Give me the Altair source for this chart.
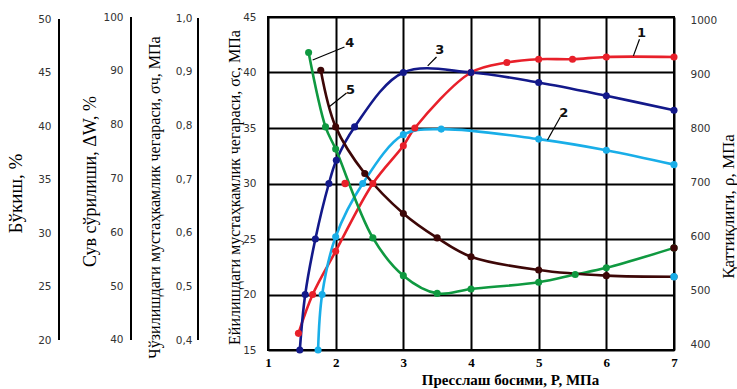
import altair as alt
import pandas as pd

# Press pressure, MPa (x) and curve values on the primary scale (15..45)
P1 = [1.45, 1.66, 2.0, 2.55, 3.0, 3.17, 4.0, 4.53, 5.0, 5.5, 6.0, 7.0]
S1 = [16.5, 20.0, 23.9, 30.0, 33.4, 35.0, 40.0, 40.9, 41.2, 41.2, 41.4, 41.4]

P2 = [1.74, 1.80, 2.0, 2.40, 3.0, 3.56, 5.0, 6.0, 7.0]
S2 = [15.0, 20.0, 25.2, 30.0, 34.4, 34.9, 34.0, 33.0, 31.7]

P3 = [1.47, 1.55, 1.70, 1.90, 2.01, 2.28, 3.0, 4.0, 5.0, 6.0, 7.0]
S3 = [15.0, 20.0, 25.0, 30.0, 32.1, 35.1, 40.0, 40.0, 39.1, 37.9, 36.6]

P4 = [1.60, 1.85, 2.0, 2.55, 3.0, 3.5, 4.0, 5.0, 5.54, 6.0, 7.0]
S4 = [41.8, 35.1, 33.1, 25.1, 21.7, 20.1, 20.5, 21.1, 21.8, 22.4, 24.2]

P5 = [1.78, 2.0, 2.43, 3.0, 3.5, 4.0, 5.0, 6.0, 7.0]
S5 = [40.2, 35.1, 30.9, 27.3, 25.1, 23.4, 22.2, 21.7, 21.6]

SERIES = ["1", "2", "3", "4", "5"]
COLORS = ["#e8202a", "#19aee8", "#13198a", "#0f9940", "#3d0707"]

# Stray markers drawn over the curves
EXTRA_P = [2.14, 7.0, 7.0]
EXTRA_S = [30.0, 24.2, 21.6]
EXTRA_C = ["#e8202a", "#3d0707", "#19aee8"]

# Curve number labels with their leader lines
LABEL_TEXT = ["1", "2", "3", "4", "5"]
LABEL_P = [6.52, 5.37, 3.54, 2.21, 2.22]
LABEL_S = [43.56, 36.35, 42.03, 42.66, 38.42]
LEAD_P1 = [6.49, 5.32, 3.49, 2.13, 2.16]
LEAD_S1 = [43.0, 35.99, 41.4, 42.3, 38.15]
LEAD_P2 = [6.40, 5.13, 3.36, 1.66, 1.90]
LEAD_S2 = [41.5, 33.92, 40.59, 41.13, 36.9]

# Tick values of each vertical scale
X_TICKS = [1, 2, 3, 4, 5, 6, 7]
SIGMA_C_TICKS = [15, 20, 25, 30, 35, 40, 45]
SWELL_TICKS = [20, 25, 30, 35, 40, 45, 50]
WATER_TICKS = [40, 50, 60, 70, 80, 90, 100]
SIGMA_T_TICKS = [0.4, 0.5, 0.6, 0.7, 0.8, 0.9, 1.0]
RHO_TICKS = [400, 500, 600, 700, 800, 900, 1000]

rows = []
for name, ps, ss in zip(SERIES, [P1, P2, P3, P4, P5], [S1, S2, S3, S4, S5]):
    for i, (p, s) in enumerate(zip(ps, ss)):
        rows.append({"series": name, "P": p, "S": s, "idx": i})
curves = pd.DataFrame(rows)
extra = pd.DataFrame({"P": EXTRA_P, "S": EXTRA_S, "c": EXTRA_C})
labels = pd.DataFrame({"t": LABEL_TEXT, "P": LABEL_P, "S": LABEL_S})
leaders = pd.DataFrame({"P": LEAD_P1, "S": LEAD_S1, "P2": LEAD_P2, "S2": LEAD_S2})

LABEL_FONT = "DejaVu Sans"
TITLE_FONT = "Liberation Serif"

x_enc = alt.X(
    "P:Q",
    scale=alt.Scale(domain=[1, 7], nice=False, zero=False),
    axis=alt.Axis(
        values=X_TICKS, format="d", grid=True, gridColor="black", gridWidth=2,
        domain=False, ticks=False, labelFlush=False, labelOverlap=False,
        labelFont=TITLE_FONT, labelFontWeight="bold", labelFontSize=13,
        labelColor="black", labelPadding=6,
        title="Пресслаш босими, P, МПа", titleFont=TITLE_FONT,
        titleFontWeight="bold", titleFontSize=15, titleColor="black",
        titleX=242, titleY=29, titleAlign="center", titleBaseline="middle",
    ),
)

y_main = alt.Y(
    "S:Q",
    scale=alt.Scale(domain=[15, 45], nice=False, zero=False),
    axis=alt.Axis(
        orient="left", values=SIGMA_C_TICKS, grid=True, gridColor="black",
        gridWidth=2, domain=False, ticks=False, labelFlush=False,
        labelOverlap=False, labelFont=LABEL_FONT, labelFontSize=10.5,
        labelColor="#333333", labelPadding=12,
        title="Ейилишдаги мустаҳкамлик чегараси, σc, МПа",
        titleFont=TITLE_FONT, titleFontWeight="normal", titleFontSize=16,
        titleColor="black", titleAngle=270, titleAlign="center",
        titleBaseline="middle", titleX=-34, titleY=170,
    ),
)

color_enc = alt.Color(
    "series:N", scale=alt.Scale(domain=SERIES, range=COLORS), legend=None
)

lines = alt.Chart(curves).mark_line(
    interpolate="catmull-rom", strokeWidth=2.6
).encode(x=x_enc, y=y_main, color=color_enc, detail="series:N", order="idx:Q")

points = alt.Chart(curves).mark_circle(size=50, opacity=1).encode(
    x="P:Q", y="S:Q", color=color_enc
)

extra_pts = alt.Chart(extra).mark_circle(size=55, opacity=1).encode(
    x="P:Q", y="S:Q", color=alt.Color("c:N", scale=None)
)

leader_lines = alt.Chart(leaders).mark_rule(color="black", strokeWidth=1.2).encode(
    x="P:Q", y="S:Q", x2="P2:Q", y2="S2:Q"
)

label_text = alt.Chart(labels).mark_text(
    font=LABEL_FONT, fontSize=13, fontWeight="bold", color="#111111"
).encode(x="P:Q", y="S:Q", text="t:N")

main = alt.layer(lines, points, extra_pts, leader_lines, label_text)


def scale_axis(ticks, domain, title, orient, offset, title_x, title_y,
               title_size, label_padding, fmt, label_expr=None, show_line=True):
    """An extra vertical scale: invisible anchor marks carrying the axis,
    plus a black spine line running from the lowest to the highest tick."""
    axis_kwargs = dict(
        orient=orient, offset=offset, values=ticks, grid=False,
        domain=False, ticks=False, format=fmt,
        labelFlush=False, labelOverlap=False, labelFont=LABEL_FONT,
        labelFontSize=10.5, labelColor="#333333", labelPadding=label_padding,
        title=title, titleFont=TITLE_FONT, titleFontWeight="normal",
        titleFontSize=title_size, titleColor="black", titleAngle=270,
        titleAlign="center", titleBaseline="middle", titleX=title_x,
        titleY=title_y,
    )
    if label_expr is not None:
        axis_kwargs["labelExpr"] = label_expr
    tick_df = pd.DataFrame({"v": ticks})
    y_scale = alt.Scale(domain=domain, nice=False, zero=False)
    anchor = alt.Chart(tick_df).mark_point(opacity=0).encode(
        y=alt.Y("v:Q", scale=y_scale, axis=alt.Axis(**axis_kwargs))
    )
    if not show_line:
        return anchor
    span = pd.DataFrame({"lo": [min(ticks)], "hi": [max(ticks)]})
    spine = alt.Chart(span).mark_rule(color="black", strokeWidth=2).encode(
        x=alt.value(-offset),
        y=alt.Y("lo:Q", scale=y_scale),
        y2="hi:Q",
    )
    return alt.layer(anchor, spine)


swell = scale_axis(SWELL_TICKS, [19.07, 50.19], "Бўкиш, %", "left", 209,
                   -44, 176, 19, 8, "d")
water = scale_axis(WATER_TICKS, [38.14, 100.0], "Сув сўрилиши, ΔW, %", "left",
                   137, -41, 164, 18, 8, "d")
sigma_t = scale_axis(SIGMA_T_TICKS, [0.3814, 1.0019],
                     "Чўзилишдаги мустаҳкамлик чегараси, σч, МПа", "left", 70,
                     -44, 180, 16, 6, ".1f",
                     label_expr="replace(datum.label, '.', ',')")
rho = scale_axis(RHO_TICKS, [390.7, 1007.4], "Қаттиқлиги, ρ, МПа", "right", 0,
                 54, 189, 17, 16, "d", show_line=False)

chart = alt.layer(swell, water, sigma_t, main, rho).resolve_scale(
    y="independent"
).properties(
    width=406,
    height=333,
    autosize="none",
    padding={"left": 268, "top": 17, "right": 63, "bottom": 39},
    background="white",
).configure_view(stroke="black", strokeWidth=2)

chart.save("out.html", embed_options={"renderer": "svg", "actions": False})
